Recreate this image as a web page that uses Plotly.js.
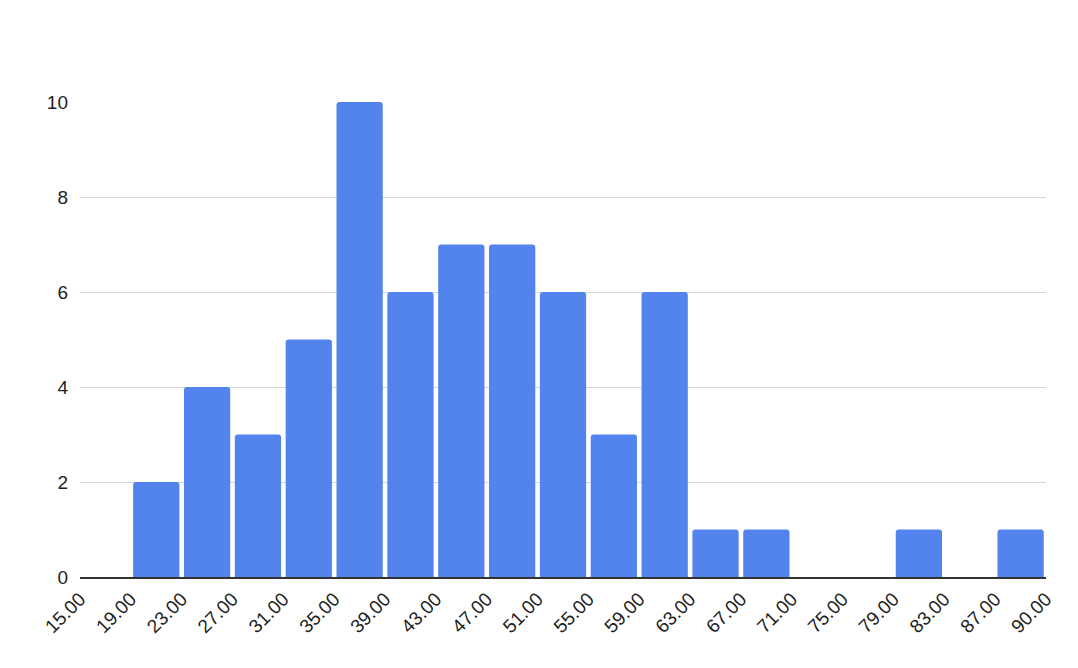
<!DOCTYPE html>
<html>
<head>
<meta charset="utf-8">
<script src="https://cdn.plot.ly/plotly-3.0.1.min.js"></script>
<style>html,body{margin:0;padding:0;background:#fff;}#chart{width:1078px;height:668px;}</style>
</head>
<body>
<div id="chart"></div>
<script>
// Bin edge labels (19 bins, 20 edges)
const binEdges = ["15.00","19.00","23.00","27.00","31.00","35.00","39.00","43.00","47.00","51.00","55.00","59.00","63.00","67.00","71.00","75.00","79.00","83.00","87.00","90.00"];
// Counts per bin
const counts = [0,2,4,3,5,10,6,7,7,6,3,6,1,1,0,0,1,0,1];

const binIndex = counts.map((_, i) => i + 0.5);
const edgeIndex = binEdges.map((_, i) => i);

const trace = {
  type: 'bar',
  x: binIndex,
  y: counts,
  width: 0.91,
  marker: {color: '#5384ED', cornerradius: 3},
  hoverinfo: 'y'
};

const layout = {
  width: 1078,
  height: 668,
  margin: {l: 80, r: 32, t: 102, b: 91},
  paper_bgcolor: '#fff',
  plot_bgcolor: '#fff',
  showlegend: false,
  font: {family: 'Liberation Sans, Arial, sans-serif', color: '#222'},
  xaxis: {
    range: [0, 19],
    tickvals: edgeIndex,
    ticktext: binEdges,
    tickangle: -45,
    showgrid: false,
    zeroline: false,
    showline: true,
    linecolor: '#333',
    linewidth: 1.5,
    ticks: '',
    ticklabelstandoff: 2,
    tickfont: {size: 19, color: '#222'}
  },
  yaxis: {
    range: [0, 10],
    dtick: 2,
    showgrid: true,
    gridcolor: '#d6d6d6',
    gridwidth: 1,
    zeroline: false,
    showline: false,
    ticks: '',
    ticklabelstandoff: 11,
    tickfont: {size: 19, color: '#222'}
  }
};

Plotly.newPlot('chart', [trace], layout, {displayModeBar: false, staticPlot: true});
</script>
</body>
</html>
